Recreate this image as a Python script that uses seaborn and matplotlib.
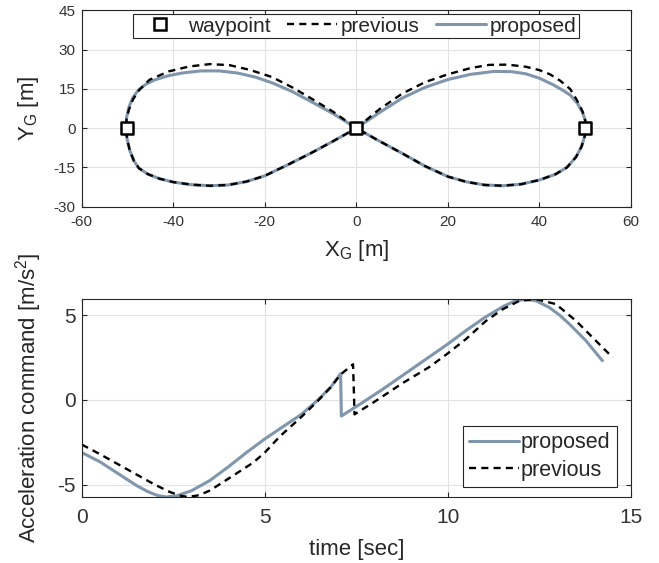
import numpy as np
import pandas as pd
import matplotlib
matplotlib.use("Agg")
import matplotlib.pyplot as plt
import seaborn as sns
from matplotlib.lines import Line2D

sns.set_style("whitegrid")
plt.rcParams['font.family'] = ['Liberation Sans', 'DejaVu Sans']
plt.rcParams['mathtext.default'] = 'regular'
plt.rcParams['axes.unicode_minus'] = False

# ---- top plot: figure-eight trajectory ----
waypoint_x = [-50, 0, 50]
waypoint_y = [0, 0, 0]

# proposed, upper half of each lobe
prop_upper_right_x = [0, 5, 10, 15, 20, 25, 30, 34, 37, 40, 43, 45, 46.7, 48.3, 49.4, 50, 50.1]
prop_upper_right_y = [0, 5.9, 11.5, 15.6, 18.6, 20.6, 21.7, 21.6, 20.8, 19.1, 16.6, 14.6, 12.7, 9.5, 6, 3, 0]
prop_upper_left_x = [0, -5, -9.5, -14, -18.2, -22, -26, -30, -34, -38, -41, -44, -46, -47.6, -48.8, -49.7, -50.2, -50.3]
prop_upper_left_y = [0, 5.5, 9.8, 14, 17.2, 19.5, 21.1, 21.9, 21.9, 21.1, 20.1, 18.5, 16.8, 14.6, 11.8, 8, 4, 0]

# previous, upper half of each lobe
prev_upper_right_x = [0, 5, 10, 15, 20, 25, 29, 33, 37, 40, 42.3, 44.5, 46.7, 48.1, 49.4, 50, 50.1]
prev_upper_right_y = [0, 7.2, 13.2, 17.6, 20.6, 23.0, 24.2, 24.3, 23.5, 22.2, 20.6, 18.2, 15, 11, 6.5, 3, 0]
prev_upper_left_x = [0, -5, -9.5, -14, -18.5, -23.3, -27.7, -32, -36.5, -41, -45.2, -47.4, -48.8, -49.7, -50.2, -50.3]
prev_upper_left_y = [0, 6.2, 11, 15.6, 19.6, 22.3, 24.1, 24.5, 23.6, 21.7, 18.5, 14.7, 11, 7, 3.5, 0]

# lower halves (both methods overlap)
lower_right_x = [50.1, 49.9, 49.2, 48, 46, 43.5, 40, 36, 32, 28, 24, 20, 15, 10, 5, 0]
lower_right_y = [0, -3, -7, -11, -15, -17.6, -19.8, -21.4, -22, -21.7, -20.5, -18.5, -14.5, -9.6, -4.9, 0]
lower_left_x = [-50.3, -50.1, -49.5, -48.6, -47.5, -45.5, -43, -40, -36, -32, -28, -24, -20, -15, -10, -5, 0]
lower_left_y = [0, -4, -8.5, -12.5, -15.3, -17.6, -19.3, -20.6, -21.6, -22, -21.7, -20.4, -18.2, -14, -9.6, -4.9, 0]

# ---- bottom plot: acceleration command ----
t_prop = [0, 0.5, 1.0, 1.5, 1.8, 2.05, 2.3, 2.6, 3.0, 3.5, 4.0, 4.5, 5.0, 5.41, 6.0, 6.45, 6.8, 7.07,
          7.09, 7.6, 8.2, 8.8, 9.4, 10.0, 10.5, 11.0, 11.5, 11.8, 12.1, 12.4, 12.77, 13.05, 13.32, 13.77, 14.22]
acc_prop = [-3.1, -3.65, -4.35, -5.05, -5.4, -5.62, -5.72, -5.65, -5.35, -4.75, -3.95, -3.1, -2.3, -1.7, -0.85, 0.0, 0.75, 1.55,
            -0.95, -0.25, 0.6, 1.5, 2.4, 3.3, 4.1, 4.85, 5.5, 5.8, 5.93, 5.85, 5.45, 5.0, 4.47, 3.49, 2.31]
t_prev = [0, 0.5, 1.0, 1.5, 2.0, 2.4, 2.7, 2.9, 3.2, 3.5, 4.0, 4.68, 5.0, 5.41, 6.0, 6.45, 6.8, 7.07, 7.41,
          7.45, 8.0, 8.77, 9.5, 10.0, 10.5, 11.04, 11.5, 11.95, 12.41, 12.95, 13.5, 14.04, 14.5]
acc_prev = [-2.63, -3.2, -3.8, -4.4, -5.0, -5.42, -5.65, -5.72, -5.62, -5.34, -4.65, -3.7, -3.1, -2.15, -1.0, -0.05, 0.75, 1.5, 2.1,
            -0.85, -0.1, 1.0, 1.95, 2.75, 3.6, 4.66, 5.35, 5.84, 5.94, 5.65, 4.66, 3.49, 2.5]

PROP_COLOR = '#8096ad'
PREV_COLOR = 'black'
EDGE = '#262626'
DASH = (0, (3.0, 2.2))
PROP_LW = 2.2
PREV_LW = 1.7


def path(*parts):
    """stitch branches into one ordered path"""
    xs, ys = [], []
    for px, py in parts:
        xs += list(px)
        ys += list(py)
    return pd.DataFrame({'x': xs, 'y': ys, 'k': np.arange(len(xs))})


def style_axes(ax, labelsize, pad):
    for s in ax.spines.values():
        s.set_visible(True)
        s.set_color(EDGE)
        s.set_linewidth(0.8)
    ax.tick_params(direction='in', top=True, right=True, bottom=True, left=True,
                   length=3.5, width=0.8, color=EDGE, labelcolor='#333333',
                   labelsize=labelsize)
    ax.tick_params(axis='x', pad=pad)
    ax.tick_params(axis='y', pad=4.5)
    ax.grid(True, color='#e2e2e2', linewidth=0.8)
    ax.set_axisbelow(True)


prop_path = path((prop_upper_right_x, prop_upper_right_y), (lower_right_x, lower_right_y),
                 (prop_upper_left_x, prop_upper_left_y), (lower_left_x, lower_left_y))
prev_path = path((prev_upper_right_x, prev_upper_right_y), (lower_right_x, lower_right_y),
                 (prev_upper_left_x, prev_upper_left_y), (lower_left_x, lower_left_y))
wp = pd.DataFrame({'x': waypoint_x, 'y': waypoint_y})
acc_p = pd.DataFrame({'t': t_prop, 'a': acc_prop})
acc_v = pd.DataFrame({'t': t_prev, 'a': acc_prev})

fig = plt.figure(figsize=(6.59, 5.63), dpi=100)
ax1 = fig.add_axes([0.124, 0.6329, 0.8335, 0.3485])
ax2 = fig.add_axes([0.124, 0.1167, 0.8335, 0.3522])

# top
sns.lineplot(data=prop_path, x='x', y='y', sort=False, estimator=None, ax=ax1,
             color=PROP_COLOR, linewidth=PROP_LW)
sns.lineplot(data=prev_path, x='x', y='y', sort=False, estimator=None, ax=ax1,
             color=PREV_COLOR, linewidth=PREV_LW, linestyle=DASH)
sns.scatterplot(data=wp, x='x', y='y', ax=ax1, marker='s', s=70, facecolor='white',
                edgecolor='black', linewidth=1.8, zorder=5)
ax1.set_xlim(-60, 60)
ax1.set_ylim(-30, 45)
ax1.set_xticks(range(-60, 61, 20))
ax1.set_yticks(range(-30, 46, 15))
style_axes(ax1, 11, 6)
ax1.set_xlabel('X$_{G}$ [m]', fontsize=16, color='#262626')
ax1.set_ylabel('Y$_{G}$ [m]', fontsize=16, color='#262626')
ax1.xaxis.set_label_coords(0.5, -0.16)
ax1.yaxis.set_label_coords(-0.075, 0.5)

h1 = [Line2D([], [], marker='s', linestyle='none', markersize=8, markerfacecolor='white',
             markeredgecolor='black', markeredgewidth=1.8),
      Line2D([], [], color=PREV_COLOR, linewidth=PREV_LW, linestyle=DASH),
      Line2D([], [], color=PROP_COLOR, linewidth=PROP_LW)]
leg1 = ax1.legend(h1, ['waypoint', 'previous', 'proposed'], ncol=3, loc='upper center',
                  bbox_to_anchor=(0.4985, 0.982), borderaxespad=0, fontsize=15,
                  handlelength=2.4, handletextpad=0.15, columnspacing=0.8,
                  borderpad=0.12, fancybox=False, framealpha=1, edgecolor=EDGE)
leg1.get_frame().set_linewidth(0.8)

# bottom
sns.lineplot(data=acc_p, x='t', y='a', sort=False, estimator=None, ax=ax2,
             color=PROP_COLOR, linewidth=PROP_LW)
sns.lineplot(data=acc_v, x='t', y='a', sort=False, estimator=None, ax=ax2,
             color=PREV_COLOR, linewidth=PREV_LW, linestyle=DASH)
ax2.set_xlim(0, 15)
ax2.set_ylim(-5.74, 5.95)
ax2.set_xticks([0, 5, 10, 15])
ax2.set_yticks([-5, 0, 5])
style_axes(ax2, 15, 8)
ax2.set_xlabel('time [sec]', fontsize=16, color='#262626')
ax2.set_ylabel('Acceleration command [m/s$^{2}$]', fontsize=16, color='#262626')
ax2.xaxis.set_label_coords(0.5, -0.21)
ax2.yaxis.set_label_coords(-0.068, 0.5)

h2 = [Line2D([], [], color=PROP_COLOR, linewidth=PROP_LW),
      Line2D([], [], color=PREV_COLOR, linewidth=PREV_LW, linestyle=DASH)]
leg2 = ax2.legend(h2, ['proposed', 'previous'], loc='lower right',
                  bbox_to_anchor=(0.9745, 0.052), borderaxespad=0, fontsize=15.5,
                  handlelength=2.3, handletextpad=0.1, labelspacing=0.3,
                  borderpad=0.3, fancybox=False, framealpha=1, edgecolor=EDGE)
leg2.get_frame().set_linewidth(0.8)

fig.savefig('out.png', dpi=100)
